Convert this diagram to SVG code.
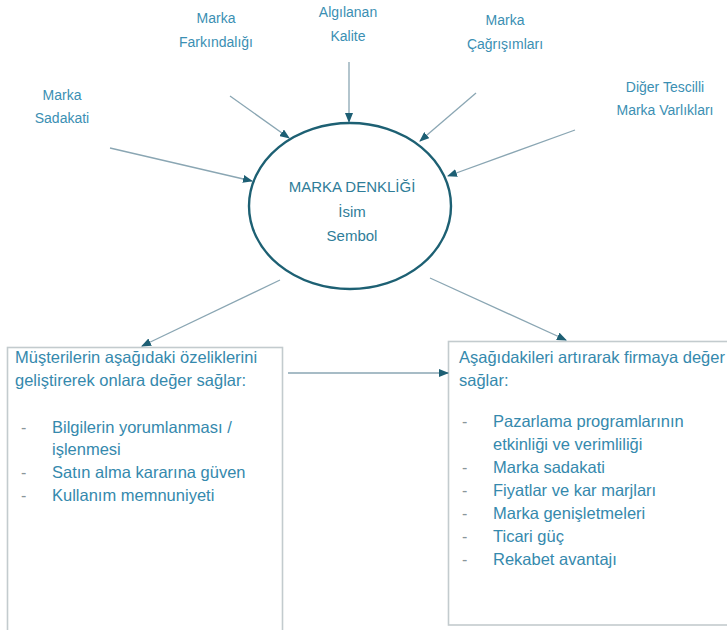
<svg xmlns="http://www.w3.org/2000/svg" width="727" height="630" viewBox="0 0 727 630">
<defs>
<marker id="ah" markerWidth="10" markerHeight="8" refX="9" refY="4" orient="auto" markerUnits="userSpaceOnUse">
<path d="M0,0 L10,4 L0,8 Z" fill="#1d5f74"/>
</marker>
<style>
.lbl{font-family:"Liberation Sans",Arial,sans-serif;font-size:14px;fill:#3b8fb3;text-anchor:middle}
.ctr{font-family:"Liberation Sans",Arial,sans-serif;font-size:15px;fill:#2f7d99;text-anchor:middle}
.bx{font-family:"Liberation Sans",Arial,sans-serif;font-size:16.5px;fill:#3589ad}
.dash{font-family:"Liberation Sans",Arial,sans-serif;font-size:16px;fill:#8a969a}
.box{fill:#ffffff;stroke:#c3cbce;stroke-width:1.6}
.conn{stroke:#8aa6b3;stroke-width:1.3;fill:none;marker-end:url(#ah)}
</style>
</defs>
<rect width="727" height="630" fill="#ffffff"/>

<g id="lbl-farkindalik">
<text class="lbl" x="216" y="23">Marka</text>
<text class="lbl" x="216" y="47">Farkındalığı</text>
</g>
<g id="lbl-kalite">
<text class="lbl" x="348" y="17">Algılanan</text>
<text class="lbl" x="348" y="41">Kalite</text>
</g>
<g id="lbl-cagrisim">
<text class="lbl" x="505" y="25">Marka</text>
<text class="lbl" x="505" y="49">Çağrışımları</text>
</g>
<g id="lbl-diger">
<text class="lbl" x="665" y="92">Diğer Tescilli</text>
<text class="lbl" x="665" y="115">Marka Varlıkları</text>
</g>
<g id="lbl-sadakat">
<text class="lbl" x="62" y="100">Marka</text>
<text class="lbl" x="62" y="123">Sadakati</text>
</g>

<g id="center">
<ellipse cx="350" cy="206" rx="101" ry="83" fill="#ffffff" stroke="#1d6073" stroke-width="2.4"/>
<text class="ctr" x="352" y="192">MARKA DENKLİĞİ</text>
<text class="ctr" x="352" y="217">İsim</text>
<text class="ctr" x="352" y="241">Sembol</text>
</g>

<g id="box-musteri">
<rect class="box" x="7.5" y="347.5" width="275" height="300"/>
<text class="bx" x="15" y="363">Müşterilerin aşağıdaki özeliklerini</text>
<text class="bx" x="15" y="386">geliştirerek onlara değer sağlar:</text>
<text class="dash" x="21" y="433">-</text>
<text class="bx" x="52" y="433">Bilgilerin yorumlanması /</text>
<text class="bx" x="52" y="455">işlenmesi</text>
<text class="dash" x="21" y="478">-</text>
<text class="bx" x="52" y="478">Satın alma kararına güven</text>
<text class="dash" x="21" y="501">-</text>
<text class="bx" x="52" y="501">Kullanım memnuniyeti</text>
</g>

<g id="box-firma">
<rect class="box" x="448.5" y="341.5" width="290" height="283.5"/>
<text class="bx" x="459" y="363">Aşağıdakileri artırarak firmaya değer</text>
<text class="bx" x="459" y="386">sağlar:</text>
<text class="dash" x="462" y="427">-</text>
<text class="bx" x="493" y="427">Pazarlama programlarının</text>
<text class="bx" x="493" y="450">etkinliği ve verimliliği</text>
<text class="dash" x="462" y="473">-</text>
<text class="bx" x="493" y="473">Marka sadakati</text>
<text class="dash" x="462" y="496">-</text>
<text class="bx" x="493" y="496">Fiyatlar ve kar marjları</text>
<text class="dash" x="462" y="519">-</text>
<text class="bx" x="493" y="519">Marka genişletmeleri</text>
<text class="dash" x="462" y="542">-</text>
<text class="bx" x="493" y="542">Ticari güç</text>
<text class="dash" x="462" y="565">-</text>
<text class="bx" x="493" y="565">Rekabet avantajı</text>
</g>

<g id="connectors">
<line class="conn" x1="349" y1="62" x2="349" y2="122"/>
<line class="conn" x1="230" y1="96" x2="289" y2="138"/>
<line class="conn" x1="476" y1="93" x2="420" y2="141"/>
<line class="conn" x1="575" y1="130" x2="448" y2="176"/>
<line class="conn" x1="110" y1="148" x2="252" y2="181"/>
<line class="conn" x1="280" y1="280" x2="142" y2="346"/>
<line class="conn" x1="430" y1="278" x2="566" y2="340"/>
<line class="conn" x1="288" y1="373" x2="448" y2="373"/>
</g>
</svg>
